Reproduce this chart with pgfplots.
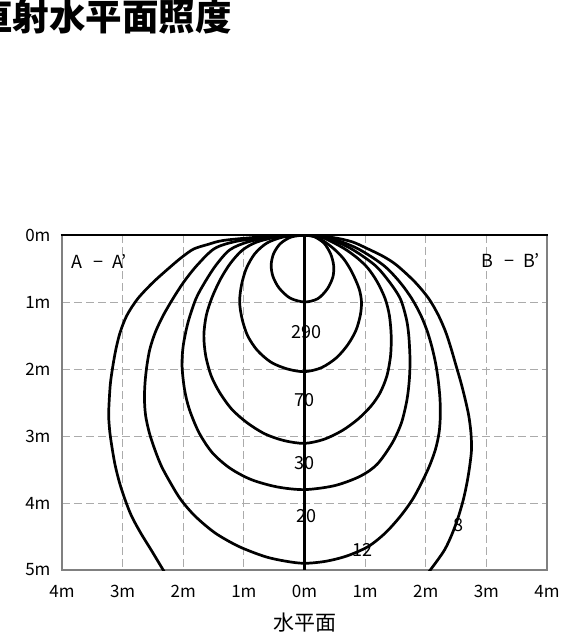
\documentclass[border=0pt]{standalone}
\usepackage{fontspec}
\setmainfont{Noto Sans CJK JP}
\usepackage{pgfplots}
\pgfplotsset{compat=1.18}
\pgfplotsset{cont/.style={black, solid, no markers, line width=2.7pt, smooth}}
\begin{document}
\begin{tikzpicture}
\useasboundingbox (-62pt,-64pt) rectangle (503pt,570pt);
\begin{axis}[
  at={(0,0)}, anchor=south west,
  scale only axis, width=485pt, height=335pt,
  xmin=-4, xmax=4, ymin=0, ymax=5,
  y dir=reverse,
  xtick={-4,-3,-2,-1,0,1,2,3,4},
  xticklabels={4m,3m,2m,1m,0m,1m,2m,3m,4m},
  ytick={0,1,2,3,4,5},
  yticklabels={0m,1m,2m,3m,4m,5m},
  tick label style={font=\fontsize{17}{17}\selectfont},
  yticklabel style={xshift=-8pt},
  xticklabel style={yshift=-12pt},
  major tick length=0pt,
  grid=major,
  major grid style={color=black!33, dash pattern=on 8pt off 4pt, line width=1pt},
  axis line style={color=black!50, line width=2.8pt},
  xlabel={水平面},
  xlabel style={at={(axis description cs:0.5,0)}, anchor=center, yshift=-53pt, font=\fontsize{21}{21}\selectfont},
]
% center line
\addplot[black, solid, no markers, line width=2.4pt] coordinates {(0,0) (0,5)};
% curve A
\addplot[cont] coordinates {
(0,0) (-0.22,0.03) (-0.4,0.13) (-0.51,0.28) (-0.55,0.45) (-0.52,0.62) (-0.42,0.79) (-0.24,0.94) (0,1.0)
(0.22,0.95) (0.38,0.8) (0.47,0.62) (0.48,0.45) (0.43,0.28) (0.32,0.12) (0.15,0.02) (0,0)};
% curve B
\addplot[cont] coordinates {
(0,0) (-0.35,0.03) (-0.62,0.12) (-0.82,0.28) (-0.96,0.5) (-1.04,0.75) (-1.07,1.0) (-1.03,1.25) (-0.94,1.5) (-0.78,1.72) (-0.55,1.9) (-0.28,2.0) (0,2.04)
(0.28,1.98) (0.53,1.83) (0.72,1.63) (0.85,1.42) (0.92,1.2) (0.94,1.0) (0.9,0.8) (0.78,0.55) (0.64,0.35) (0.45,0.18) (0.22,0.04) (0,0)};
% curve C
\addplot[cont] coordinates {
(0,0) (-0.45,0.03) (-0.8,0.11) (-1.03,0.23) (-1.22,0.42) (-1.38,0.65) (-1.52,0.92) (-1.62,1.2) (-1.66,1.5) (-1.63,1.8) (-1.54,2.1) (-1.4,2.35) (-1.2,2.6) (-0.95,2.8) (-0.65,2.97) (-0.33,3.07) (0,3.11)
(0.32,3.05) (0.62,2.92) (0.88,2.75) (1.1,2.55) (1.25,2.35) (1.36,2.1) (1.42,1.8) (1.43,1.5) (1.4,1.2) (1.33,0.95) (1.2,0.7) (1.05,0.5) (0.88,0.35) (0.65,0.2) (0.3,0.04) (0,0)};
% curve D
\addplot[cont] coordinates {
(0,0) (-0.5,0.03) (-0.92,0.1) (-1.23,0.22) (-1.46,0.45) (-1.64,0.7) (-1.79,0.95) (-1.92,1.3) (-2.0,1.65) (-2.02,1.95) (-1.98,2.3) (-1.9,2.6) (-1.74,2.95) (-1.52,3.25) (-1.23,3.48) (-0.88,3.65) (-0.45,3.76) (0,3.8)
(0.5,3.74) (0.92,3.6) (1.2,3.42) (1.45,3.1) (1.6,2.8) (1.69,2.46) (1.73,2.15) (1.74,1.85) (1.72,1.5) (1.68,1.25) (1.58,0.95) (1.4,0.7) (1.16,0.45) (0.76,0.2) (0.35,0.04) (0,0)};
% curve E
\addplot[cont] coordinates {
(0,0) (-0.55,0.03) (-1.1,0.09) (-1.48,0.2) (-1.77,0.45) (-1.99,0.7) (-2.17,0.95) (-2.33,1.2) (-2.46,1.45) (-2.55,1.7) (-2.6,1.95) (-2.63,2.2) (-2.64,2.45) (-2.62,2.7) (-2.56,2.95) (-2.47,3.2) (-2.36,3.45) (-2.21,3.7) (-2.04,3.95) (-1.8,4.2) (-1.47,4.45) (-1.08,4.65) (-0.65,4.8) (-0.3,4.87) (0,4.9)
(0.35,4.87) (0.7,4.79) (1.05,4.65) (1.33,4.45) (1.58,4.2) (1.78,3.95) (1.93,3.7) (2.06,3.45) (2.16,3.2) (2.22,2.95) (2.24,2.7) (2.235,2.45) (2.21,2.2) (2.17,1.95) (2.11,1.7) (2.03,1.45) (1.92,1.2) (1.77,0.95) (1.57,0.7) (1.3,0.45) (0.87,0.2) (0.4,0.04) (0,0)};
% curve F (left and right, running out of the frame)
\addplot[cont] coordinates {
(0,0) (-0.73,0.03) (-1.33,0.08) (-1.59,0.14) (-1.83,0.21) (-2.02,0.33) (-2.18,0.45) (-2.49,0.7) (-2.75,0.95) (-2.93,1.2) (-3.04,1.45) (-3.11,1.7) (-3.16,1.95) (-3.2,2.2) (-3.22,2.45) (-3.23,2.7) (-3.21,2.95) (-3.17,3.2) (-3.12,3.45) (-3.05,3.7) (-2.96,3.95) (-2.85,4.2) (-2.7,4.45) (-2.53,4.7) (-2.33,5.0) (-2.15,5.25)};
\addplot[cont] coordinates {
(1.9,5.2) (2.1,4.97) (2.31,4.7) (2.44,4.45) (2.54,4.2) (2.62,3.95) (2.68,3.7) (2.725,3.45) (2.755,3.2) (2.745,2.95) (2.71,2.7) (2.65,2.45) (2.58,2.2) (2.5,1.95) (2.42,1.7) (2.33,1.45) (2.21,1.2) (2.05,0.95) (1.82,0.7) (1.52,0.45) (1.3,0.32) (1.03,0.2) (0.78,0.1) (0.45,0.035) (0,0)};
% labels
\node[font=\fontsize{18}{18}\selectfont] at (axis cs:0.03,1.45) {290};
\node[font=\fontsize{18}{18}\selectfont] at (axis cs:0,2.46) {70};
\node[font=\fontsize{18}{18}\selectfont] at (axis cs:0,3.41) {30};
\node[font=\fontsize{18}{18}\selectfont] at (axis cs:0.03,4.2) {20};
\node[font=\fontsize{18}{18}\selectfont] at (axis cs:0.95,4.7) {12};
\node[font=\fontsize{18}{18}\selectfont] at (axis cs:2.54,4.33) {8};
\node[font=\fontsize{18}{18}\selectfont, anchor=west, inner sep=0pt] at (axis cs:-3.85,0.4) {A\hspace{0.6em}−\hspace{0.5em}A’};
\node[font=\fontsize{18}{18}\selectfont, anchor=east, inner sep=0pt] at (axis cs:3.88,0.38) {B\hspace{0.6em}−\hspace{0.5em}B’};
\end{axis}
\draw[black, line width=2.6pt] (-1.4pt,335pt) -- (486.4pt,335pt);
\node[anchor=base west, inner sep=0pt, font=\fontsize{36.5}{36.5}\selectfont\bfseries] at (-86pt,539pt) {直射水平面照度};
\end{tikzpicture}
\end{document}
